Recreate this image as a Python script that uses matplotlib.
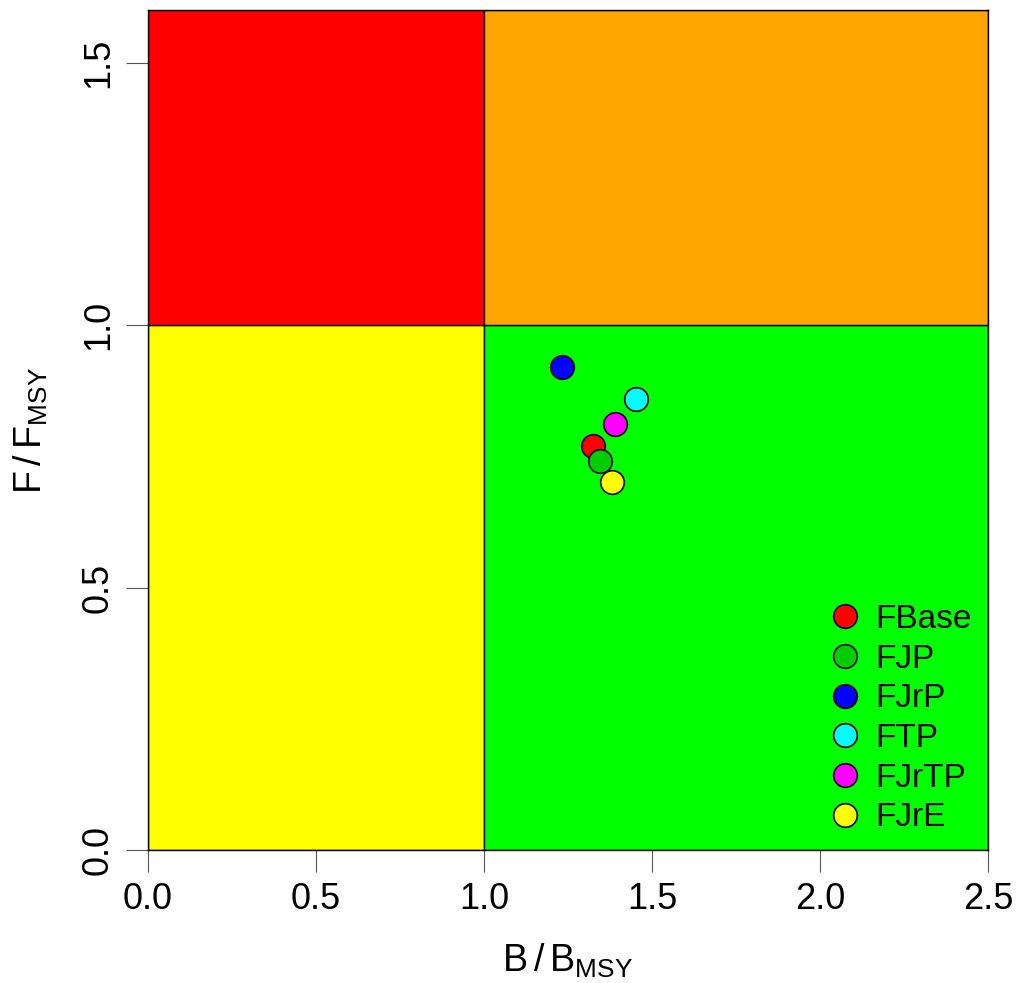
import matplotlib
matplotlib.use('Agg')
import matplotlib.pyplot as plt
from matplotlib.patches import Rectangle

plt.rcParams['font.family'] = ['Liberation Sans', 'DejaVu Sans']
plt.rcParams['mathtext.fontset'] = 'custom'
plt.rcParams['mathtext.rm'] = 'Liberation Sans'

# Kobe plot data: B/Bmsy and F/Fmsy per run
runs = ['FBase', 'FJP', 'FJrP', 'FTP', 'FJrTP', 'FJrE']
b_ratio = [1.324, 1.345, 1.232, 1.452, 1.390, 1.381]
f_ratio = [0.770, 0.741, 0.920, 0.859, 0.811, 0.701]
colors = ['#FF0000', '#00CD00', '#0000FF', '#00FFFF', '#FF00FF', '#FFFF00']

fig = plt.figure(figsize=(10.19, 9.83), dpi=100)
ax = fig.add_axes([148/1019, 133/983, 840/1019, 840/983])

# quadrants
ax.add_patch(Rectangle((0, 0), 1, 1, facecolor='#FFFF00', edgecolor='black', lw=1, zorder=0))
ax.add_patch(Rectangle((1, 0), 1.5, 1, facecolor='#00FF00', edgecolor='black', lw=1, zorder=0))
ax.add_patch(Rectangle((0, 1), 1, 0.6, facecolor='#FF0000', edgecolor='black', lw=1, zorder=0))
ax.add_patch(Rectangle((1, 1), 1.5, 0.6, facecolor='#FFA500', edgecolor='black', lw=1, zorder=0))

for i in range(len(runs)):
    ax.plot(b_ratio[i], f_ratio[i], 'o', ms=17, mfc=colors[i], mec='black', mew=1.2,
            ls='none', label=runs[i], zorder=3)

ax.set_xlim(0, 2.5)
ax.set_ylim(0, 1.6)
ax.set_xticks([0, 0.5, 1.0, 1.5, 2.0, 2.5])
ax.set_yticks([0, 0.5, 1.0, 1.5])
ax.set_xticklabels(['0.0', '0.5', '1.0', '1.5', '2.0', '2.5'])
ax.set_yticklabels(['0.0', '0.5', '1.0', '1.5'], rotation=90, va='center')
ax.tick_params(axis='both', length=16, width=0.8, color='#555555', labelsize=26, pad=7)

for sp in ax.spines.values():
    sp.set_linewidth(1)

ax.set_xlabel(r'$\mathregular{B\,/\,B_{MSY}}$', fontsize=27, labelpad=18)
ax.set_ylabel(r'$\mathregular{F\,/\,F_{MSY}}$', fontsize=27, labelpad=22)

leg = ax.legend(loc='lower right', frameon=False, fontsize=24, handletextpad=0.3,
                labelspacing=0.26, borderaxespad=0.1, handlelength=1.2)

fig.savefig('out.png', dpi=100)
